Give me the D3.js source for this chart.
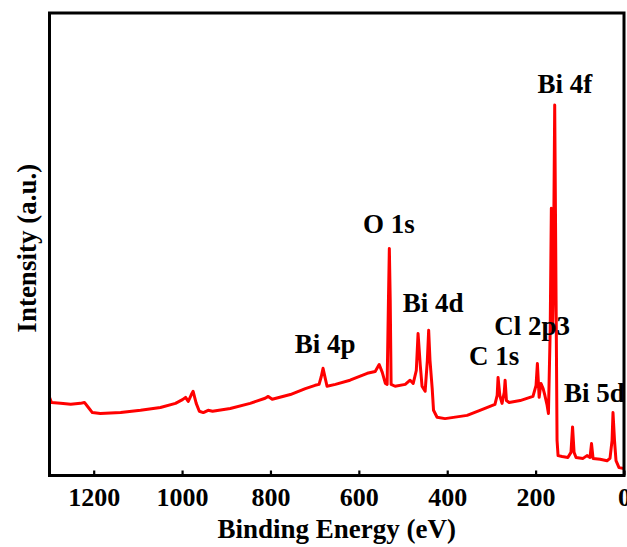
<!DOCTYPE html>
<html>
<head>
<meta charset="utf-8">
<script src="https://cdn.jsdelivr.net/npm/d3@7"></script>
<style>
  html, body { margin: 0; padding: 0; background: #fff; }
  svg { display: block; }
  text { font-family: "Liberation Serif", "Times New Roman", serif; font-weight: bold; fill: #000; }
</style>
</head>
<body>
<svg id="chart" width="627" height="547"></svg>
<script>
// XPS survey spectrum: binding energy (eV) and intensity (arbitrary units)
const energy = [1300,1295.5,1275,1252,1230,1221,1212,1203,1185,1139,
  1094,1049,1015,999,992,986,979,975,968,961,
  952,941,931,891,846,812,805,796,755,721,
  699,690,685,681,676,672,653,620,581,563,
  554,547,540,536,533,531,529,527,518,495,
  484,477,470,466,461,457,450,445,442,439,
  434,431,423,405,355,326,292,287,285,281,
  276,271,269,266,260,235,206,199,196,192,
  188,183,179,174,171,167,164.4,161.7,160.2,156.8,
  153.7,151.5,149.2,140,127,120,116.4,113,108.5,92.7,
  83.7,76.9,73.5,70,54,38.4,31.7,27,24.9,21.5,
  18.1,11.3,0];
const intensity = [16.9,15.8,15.6,15.4,15.6,15.8,14.7,13.6,13.4,13.6,
  14.1,14.7,15.6,16.4,16.9,16.0,17.5,18.2,15.6,13.9,
  13.6,14.1,13.9,14.5,15.6,16.7,17.1,16.5,17.5,18.8,
  19.5,19.7,21.4,23.2,21.0,19.3,19.7,20.6,22.1,22.5,
  24.0,22.3,19.9,19.7,37.9,49.1,37.9,19.7,19.3,19.7,
  20.6,19.9,22.7,30.7,23.8,19.3,18.2,24.9,31.4,24.9,
  18.8,14.1,12.6,12.3,13.0,14.1,15.4,17.3,21.2,17.3,
  15.6,18.0,20.6,16.2,15.8,16.2,17.1,19.5,24.2,16.9,
  19.9,18.8,17.3,15.2,13.4,31.4,57.8,31.4,37.9,80.1,
  37.9,7.6,4.3,4.1,3.9,5.0,10.5,5.0,3.9,3.7,
  4.3,3.9,6.9,3.7,3.5,3.2,3.7,7.6,13.6,7.6,
  3.2,1.7,1.5];

// Axis ticks
const xTicks = [1200, 1000, 800, 600, 400, 200, 0];

// Peak assignments: label, energy of label centre, intensity of label baseline
const peakNames = ["Bi 4f", "O 1s", "Bi 4d", "Bi 4p", "C 1s", "Cl 2p3", "Bi 5d"];
const peakLabelEnergy = [134, 532, 432, 676, 294, 208, 67];
const peakLabelLevel = [82.7, 52.4, 35.3, 26.4, 23.8, 30.3, 15.8];

const svg = d3.select("#chart");
const plotLeft = 49.5, plotRight = 624, plotTop = 13, plotBottom = 475.5;

const x = d3.scaleLinear().domain([1300, 0]).range([plotLeft, plotRight]);
const y = d3.scaleLinear().domain([0, 100]).range([plotBottom, plotTop]);

svg.append("defs").append("clipPath").attr("id", "plot-clip")
  .append("rect").attr("x", plotLeft).attr("y", plotTop)
  .attr("width", plotRight - plotLeft).attr("height", plotBottom - plotTop);

const points = energy.map((e, i) => [e, intensity[i]]);
const line = d3.line().x(d => x(d[0])).y(d => y(d[1]));

svg.append("path")
  .datum(points)
  .attr("clip-path", "url(#plot-clip)")
  .attr("d", line)
  .attr("fill", "none")
  .attr("stroke", "#ff0000")
  .attr("stroke-width", 3)
  .attr("stroke-linejoin", "round");

// Bottom axis with inward ticks
const xAxis = d3.axisBottom(x).tickValues(xTicks).tickSize(-5).tickPadding(12)
  .tickFormat(d3.format("d"));
const gx = svg.append("g").attr("transform", `translate(0,${plotBottom})`).call(xAxis);
gx.select(".domain").remove();
gx.selectAll(".tick line").attr("stroke", "#000").attr("stroke-width", 2.2);
gx.selectAll(".tick text")
  .attr("font-family", "Liberation Serif, serif")
  .attr("font-weight", "bold")
  .attr("font-size", 26)
  .attr("fill", "#000");

// Frame
svg.append("rect")
  .attr("x", plotLeft).attr("y", plotTop)
  .attr("width", plotRight - plotLeft).attr("height", plotBottom - plotTop)
  .attr("fill", "none").attr("stroke", "#000").attr("stroke-width", 3);

// Axis titles
svg.append("text")
  .attr("x", (plotLeft + plotRight) / 2).attr("y", 538)
  .attr("text-anchor", "middle").attr("font-size", 27)
  .text("Binding Energy (eV)");

svg.append("text")
  .attr("transform", `translate(36,${(plotTop + plotBottom) / 2 + 4}) rotate(-90)`)
  .attr("text-anchor", "middle").attr("font-size", 27)
  .text("Intensity (a.u.)");

// Peak labels
svg.selectAll("text.peak")
  .data(peakNames)
  .join("text")
  .attr("class", "peak")
  .attr("x", (d, i) => x(peakLabelEnergy[i]))
  .attr("y", (d, i) => y(peakLabelLevel[i]))
  .attr("text-anchor", "middle")
  .attr("font-size", 27)
  .text(d => d);
</script>
</body>
</html>
